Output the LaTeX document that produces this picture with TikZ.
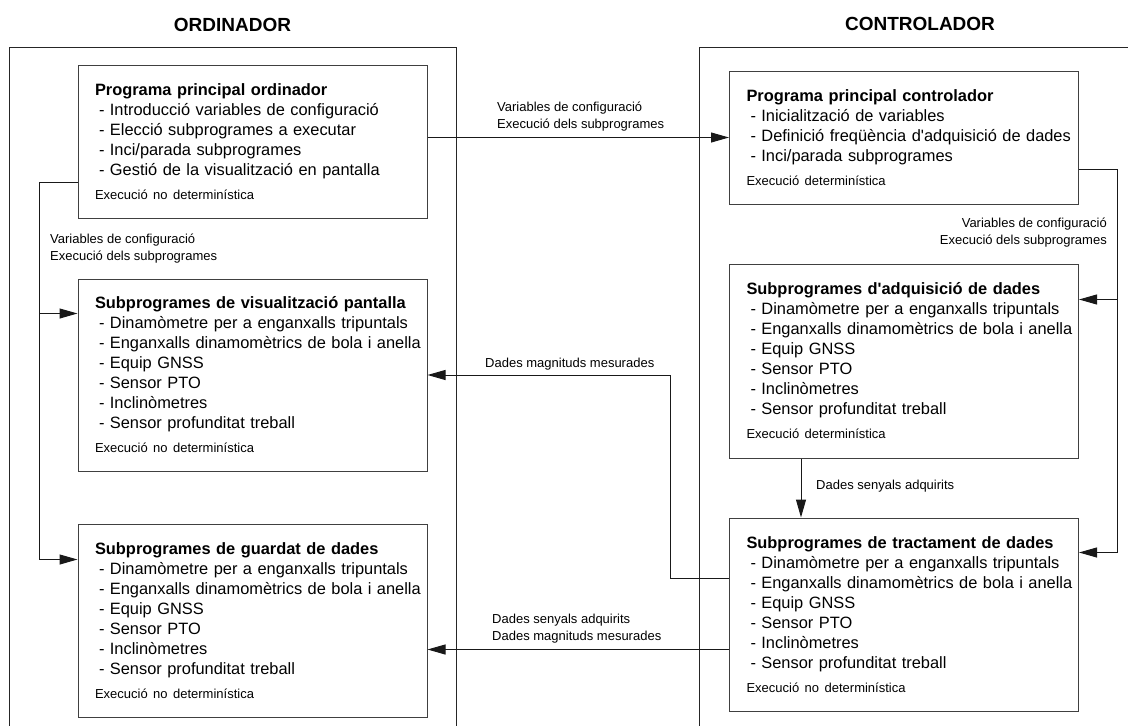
\documentclass[tikz,border=0pt]{standalone}
\usepackage{fontspec}
\setmainfont{Liberation Sans}[Ligatures=TeXOff]
\usetikzlibrary{arrows.meta,positioning}
\newcommand\progitem[1]{\mbox{\hspace{4pt}- #1}}
\newcommand\prognote[1]{{\fontsize{13}{20}\selectfont #1}}
\tikzset{
    prog/.style={
        rectangle,
        draw=black!75,
        line width=1pt,
        minimum width=349pt,
        inner xsep=17pt,
        text width=315pt,
        align=left,
        font=\fontsize{16.4}{20}\selectfont
    },
    header/.style={
        font=\fontsize{19}{22}\selectfont\bfseries
    },
    note/.style={
        inner sep=0pt,
        align=left,
        font=\fontsize{13}{16.5}\selectfont
    },
    flow/.style={
        -{Triangle[length=18pt,width=10pt]},
        line width=1pt,
        draw=black!90
    },
    frame/.style={
        line width=1pt,
        draw=black!85
    }
}

\begin{document}
\begin{tikzpicture}[x=1pt, y=-1pt]
    \useasboundingbox (0,0) rectangle (1128,726);

    % Frames
    \draw[frame] (9,726) |- (456,47) -- (456,726);
    \draw[frame] (699,726) |- (1128,47);
    \node[header] (ordhead) at (232.5,25) {ORDINADOR};
    \node[header] (ctrlhead) at (920,24) {CONTROLADOR};

    % Ordinador
    \node[prog, minimum height=153pt] (ordmain) at (252.5,141.5) {%
        \textbf{Programa principal ordinador}\\
        \progitem{Introducció variables de configuració}\\
        \progitem{Elecció subprogrames a executar}\\
        \progitem{Inci/parada subprogrames}\\
        \progitem{Gestió de la visualització en pantalla}\\[4pt]
        \prognote{Execució no determinística}};
    \node[prog, minimum height=192pt, below=60pt of ordmain] (ordvis) {%
        \textbf{Subprogrames de visualització pantalla}\\
        \progitem{Dinamòmetre per a enganxalls tripuntals}\\
        \progitem{Enganxalls dinamomètrics de bola i anella}\\
        \progitem{Equip GNSS}\\
        \progitem{Sensor PTO}\\
        \progitem{Inclinòmetres}\\
        \progitem{Sensor profunditat treball}\\[4pt]
        \prognote{Execució no determinística}};
    \node[prog, minimum height=193pt, below=52pt of ordvis] (ordsave) {%
        \textbf{Subprogrames de guardat de dades}\\
        \progitem{Dinamòmetre per a enganxalls tripuntals}\\
        \progitem{Enganxalls dinamomètrics de bola i anella}\\
        \progitem{Equip GNSS}\\
        \progitem{Sensor PTO}\\
        \progitem{Inclinòmetres}\\
        \progitem{Sensor profunditat treball}\\[4pt]
        \prognote{Execució no determinística}};

    % Controlador
    \node[prog, minimum height=133pt] (ctrlmain) at (904,137.5) {%
        \textbf{Programa principal controlador}\\
        \progitem{Inicialització de variables}\\
        \progitem{Definició freqüència d'adquisició de dades}\\
        \progitem{Inci/parada subprogrames}\\[4pt]
        \prognote{Execució determinística}};
    \node[prog, minimum height=194pt, below=59pt of ctrlmain] (ctrlacq) {%
        \textbf{Subprogrames d'adquisició de dades}\\
        \progitem{Dinamòmetre per a enganxalls tripuntals}\\
        \progitem{Enganxalls dinamomètrics de bola i anella}\\
        \progitem{Equip GNSS}\\
        \progitem{Sensor PTO}\\
        \progitem{Inclinòmetres}\\
        \progitem{Sensor profunditat treball}\\[4pt]
        \prognote{Execució determinística}};
    \node[prog, minimum height=193pt, below=59pt of ctrlacq] (ctrlproc) {%
        \textbf{Subprogrames de tractament de dades}\\
        \progitem{Dinamòmetre per a enganxalls tripuntals}\\
        \progitem{Enganxalls dinamomètrics de bola i anella}\\
        \progitem{Equip GNSS}\\
        \progitem{Sensor PTO}\\
        \progitem{Inclinòmetres}\\
        \progitem{Sensor profunditat treball}\\[4pt]
        \prognote{Execució no determinística}};

    % Connections
    \draw[flow] (ordmain.east |- ctrlmain.west) -- (ctrlmain.west);

    \coordinate (busL) at ([xshift=-38pt,yshift=-40.5pt]ordmain.west);
    \coordinate (visin) at ([yshift=-35pt]ordvis.north west);
    \coordinate (savein) at ([yshift=-36pt]ordsave.north west);
    \draw[flow] ([yshift=-40.5pt]ordmain.west) -- (busL) |- (savein);
    \draw[flow] (busL |- visin) -- (visin);

    \coordinate (busR) at ([xshift=38pt,yshift=-31.5pt]ctrlmain.east);
    \coordinate (acqin) at ([yshift=-36pt]ctrlacq.north east);
    \coordinate (procin) at ([yshift=-35pt]ctrlproc.north east);
    \draw[flow] ([yshift=-31.5pt]ctrlmain.east) -- (busR) |- (procin);
    \draw[flow] (busR |- acqin) -- (acqin);

    \draw[flow] ([xshift=72pt]ctrlacq.south west) -- ([xshift=72pt]ctrlproc.north west);

    \coordinate (measout) at ([yshift=-61pt]ctrlproc.north west);
    \draw[flow] (measout) -- ++(-59pt,0) |- (ordvis.east);
    \coordinate (allout) at ([yshift=-132pt]ctrlproc.north west);
    \draw[flow] (allout) -- (allout -| ordsave.east);

    % Labels
    \node[note, anchor=north west] (cfgnote) at (497,102) {Variables de configuració\\Execució dels subprogrames};
    \node[note, anchor=north west] (cfgnoteL) at (50,234) {Variables de configuració\\Execució dels subprogrames};
    \node[note, anchor=north east, align=right] (cfgnoteR) at (1107,218) {Variables de configuració\\Execució dels subprogrames};
    \node[note, anchor=north west] (acqnote) at (816,480) {Dades senyals adquirits};
    \node[note, anchor=north west] (measnote) at (485,358) {Dades magnituds mesurades};
    \node[note, anchor=north west] (allnote) at (492,614) {Dades senyals adquirits\\Dades magnituds mesurades};
\end{tikzpicture}
\end{document}
